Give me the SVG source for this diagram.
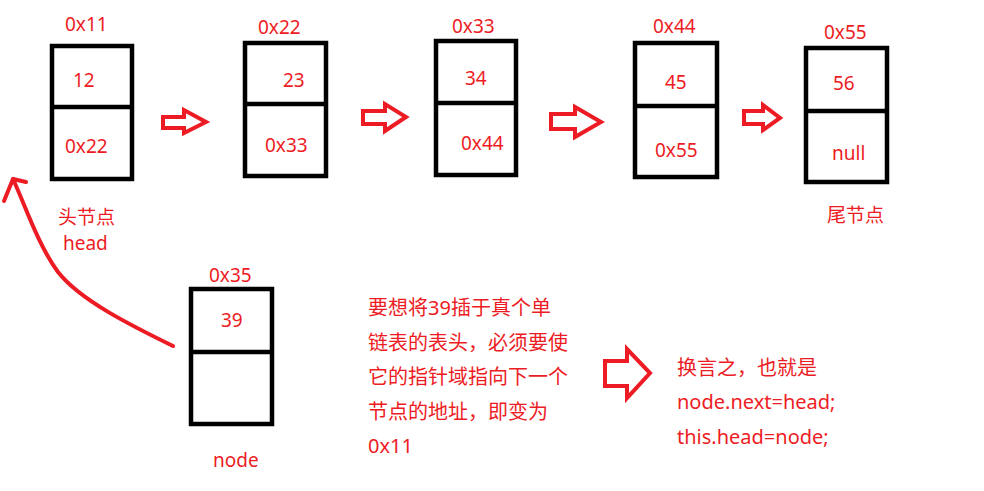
<svg xmlns="http://www.w3.org/2000/svg" width="984" height="491" viewBox="0 0 984 491">
<style>
.box{fill:none;stroke:#000;stroke-width:4.5}
.div{stroke:#000;stroke-width:4.5}
.t{font-family:"Noto Sans","Noto Sans CJK SC",sans-serif;fill:#ED1C24;font-size:19px}
.c{font-family:"Noto Sans","Noto Sans CJK SC",sans-serif;fill:#ED1C24;font-size:19px}
.blk{fill:none;stroke:#ED1C24;stroke-width:4;stroke-linejoin:miter}
.cur{fill:none;stroke:#ED1C24;stroke-width:4;stroke-linecap:round;stroke-linejoin:round}
</style>
<rect width="984" height="491" fill="#fff"/>
<g id="node1">
<rect class="box" x="52" y="46" width="80" height="133"/>
<line class="div" x1="52" y1="107" x2="132" y2="107"/>
<text class="t" x="65" y="31">0x11</text>
<text class="t" x="73" y="87">12</text>
<text class="t" x="65" y="153">0x22</text>
<text class="c" x="58" y="224">头节点</text>
<text class="t" x="63" y="250">head</text>
</g>
<g id="node2">
<rect class="box" x="245" y="43" width="81" height="133"/>
<line class="div" x1="245" y1="104" x2="326" y2="104"/>
<text class="t" x="258" y="34">0x22</text>
<text class="t" x="283" y="87">23</text>
<text class="t" x="265" y="152">0x33</text>
</g>
<g id="node3">
<rect class="box" x="436" y="41" width="80" height="134"/>
<line class="div" x1="436" y1="103" x2="516" y2="103"/>
<text class="t" x="452" y="33">0x33</text>
<text class="t" x="465" y="85">34</text>
<text class="t" x="461" y="150">0x44</text>
</g>
<g id="node4">
<rect class="box" x="635" y="43" width="82" height="134"/>
<line class="div" x1="635" y1="106" x2="717" y2="106"/>
<text class="t" x="653" y="33">0x44</text>
<text class="t" x="665" y="89">45</text>
<text class="t" x="655" y="157">0x55</text>
</g>
<g id="node5">
<rect class="box" x="806" y="48" width="81" height="134"/>
<line class="div" x1="806" y1="111" x2="887" y2="111"/>
<text class="t" x="824" y="39">0x55</text>
<text class="t" x="833" y="90">56</text>
<text class="t" x="832" y="160">null</text>
<text class="c" x="827" y="222">尾节点</text>
</g>
<g id="node6">
<rect class="box" x="191" y="289" width="81" height="135"/>
<line class="div" x1="191" y1="352" x2="272" y2="352"/>
<text class="t" x="209" y="282">0x35</text>
<text class="t" x="221" y="327">39</text>
<text class="t" x="213" y="467">node</text>
</g>
<g id="note1" class="c" font-size="20">
<text x="368" y="315" style="font-size:20px">要想将39插于真个单</text>
<text x="368" y="350" style="font-size:20px">链表的表头，必须要使</text>
<text x="368" y="384" style="font-size:20px">它的指针域指向下一个</text>
<text x="368" y="419" style="font-size:20px">节点的地址，即变为</text>
<text x="368" y="453" style="font-size:20px">0x11</text>
</g>
<g id="note2" class="c">
<text x="677" y="375" style="font-size:20px">换言之，也就是</text>
<text x="677" y="409" style="font-size:20px">node.next=head;</text>
<text x="677" y="444" style="font-size:20px">this.head=node;</text>
</g>
<g id="connectors">
<path class="blk" d="M163,117 H184 V110 L206,122 L184,133 V128 H163 Z"/>
<path class="blk" d="M363,111 H385 V104 L406,117 L385,131 V124 H363 Z"/>
<path class="blk" d="M551,114 H575 V107 L601,122 L575,137 V129 H551 Z"/>
<path class="blk" d="M744,111 H763 V105 L780,118 L763,130 V124 H744 Z"/>
<path class="blk" d="M605,361 H627 V349 L650,373 L627,398 V386 H605 Z"/>
<path class="cur" d="M173,346 C130,325 80,300 58,272 C38,245 25,205 13,179"/>
<path class="cur" d="M4,201 L13,179 L26,182"/>
</g>
</svg>
